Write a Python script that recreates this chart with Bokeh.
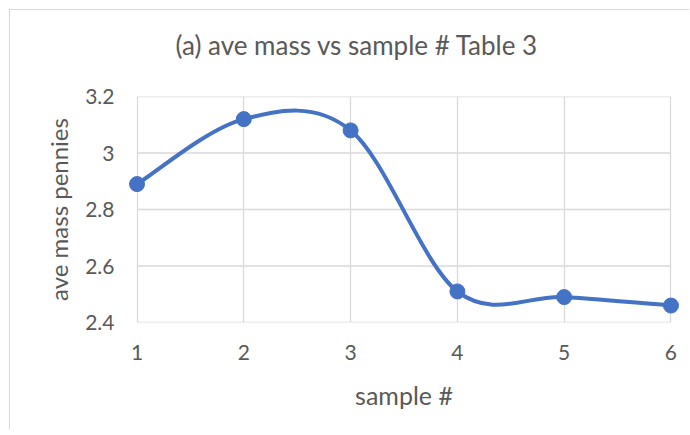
import numpy as np
from bokeh.plotting import figure
from bokeh.models import ColumnDataSource, FixedTicker, Title
from bokeh.embed import file_html
from bokeh.resources import INLINE

# ---- data ----
samples = [1, 2, 3, 4, 5, 6]
ave_mass = [2.89, 3.12, 3.08, 2.51, 2.49, 2.46]
x_ticks = [1, 2, 3, 4, 5, 6]
y_ticks = [2.4, 2.6, 2.8, 3.0, 3.2]
y_tick_labels = ["2.4", "2.6", "2.8", "3", "3.2"]
title_text = "(a) ave mass vs sample # Table 3"
x_label = "sample #"
y_label = "ave mass pennies"

FONT = "Lato"
TXT = "#595959"
BLUE = "#4472C4"
GRID = "#d9d9d9"
PAD = 0.08  # room so end markers are not clipped

# Excel-style smoothed line: cubic Bezier segments (Catmull-Rom control points)
x = np.array(samples, dtype=float)
y = np.array(ave_mass, dtype=float)
xp = np.concatenate([[x[0]], x, [x[-1]]])
yp = np.concatenate([[y[0]], y, [y[-1]]])
n = len(x)
seg = dict(x0=[], y0=[], x1=[], y1=[], cx0=[], cy0=[], cx1=[], cy1=[])
for i in range(n - 1):
    seg["x0"].append(xp[i + 1]); seg["y0"].append(yp[i + 1])
    seg["x1"].append(xp[i + 2]); seg["y1"].append(yp[i + 2])
    seg["cx0"].append(xp[i + 1] + (xp[i + 2] - xp[i]) / 6)
    seg["cy0"].append(yp[i + 1] + (yp[i + 2] - yp[i]) / 6)
    seg["cx1"].append(xp[i + 2] - (xp[i + 3] - xp[i + 1]) / 6)
    seg["cy1"].append(yp[i + 2] - (yp[i + 3] - yp[i + 1]) / 6)

p = figure(width=680, height=420,
           x_range=(min(x_ticks) - PAD, max(x_ticks) + PAD),
           y_range=(min(y_ticks), max(y_ticks)),
           output_backend="svg", toolbar_location=None,
           min_border_left=118, min_border_right=11,
           min_border_top=86, min_border_bottom=108)
p.margin = (9, 0, 0, 9)
p.styles = {"border-left": "1px solid #d9d9d9", "border-top": "1px solid #d9d9d9",
            "border-right": "none", "border-bottom": "none"}
p.outline_line_color = None
p.background_fill_color = "white"
p.border_fill_color = "white"

# spacer between frame and title (nearest the frame)
p.add_layout(Title(text=" ", text_font_size="1px", standoff=28), "above")

# title
p.title.text = title_text
p.title.text_font = FONT
p.title.text_font_size = "26px"
p.title.text_font_style = "normal"
p.title.text_color = TXT
p.title.align = "left"
p.title.offset = 47
p.title.standoff = 10

# grids: vertical via grid, horizontal as segments spanning the sample range
p.xgrid.ticker = FixedTicker(ticks=x_ticks)
p.xgrid.grid_line_color = GRID
p.xgrid.grid_line_width = 1.3
p.ygrid.grid_line_color = None
p.segment(x0=[min(x_ticks)] * len(y_ticks), x1=[max(x_ticks)] * len(y_ticks),
          y0=y_ticks, y1=y_ticks, line_color=GRID, line_width=1.3)

# axes
p.xaxis.ticker = FixedTicker(ticks=x_ticks)
p.yaxis.ticker = FixedTicker(ticks=y_ticks)
p.yaxis.major_label_overrides = {t: l for t, l in zip(y_ticks, y_tick_labels)}
for ax in (p.xaxis, p.yaxis):
    ax.axis_line_color = None
    ax.major_tick_line_color = None
    ax.minor_tick_line_color = None
    ax.major_label_text_font = FONT
    ax.major_label_text_font_size = "21px"
    ax.major_label_text_color = TXT
    ax.axis_label_text_font = FONT
    ax.axis_label_text_font_style = "normal"
    ax.axis_label_text_color = TXT
p.xaxis.axis_label_text_font_size = "25px"
p.yaxis.axis_label_text_font_size = "24px"
p.xaxis.axis_label = x_label
p.yaxis.axis_label = y_label
p.xaxis.major_label_standoff = 16
p.xaxis.axis_label_standoff = 17
p.yaxis.major_label_standoff = 8
p.yaxis.axis_label_standoff = 9

# smoothed line + markers
p.bezier(x0="x0", y0="y0", x1="x1", y1="y1", cx0="cx0", cy0="cy0",
         cx1="cx1", cy1="cy1", source=ColumnDataSource(seg),
         line_color=BLUE, line_width=4)
p.scatter(samples, ave_mass, size=15, color=BLUE)

open("out.html", "w").write(file_html(p, INLINE))
